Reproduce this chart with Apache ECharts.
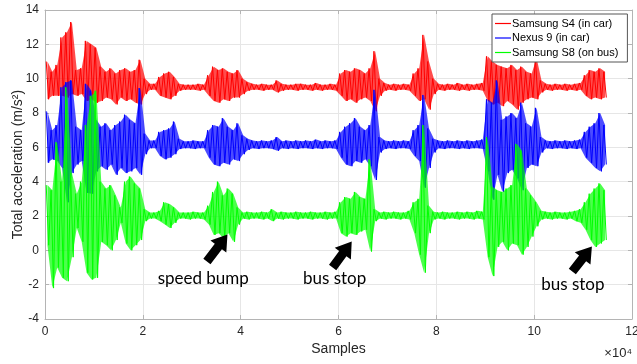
<!DOCTYPE html>
<html>
<head>
<meta charset="utf-8">
<script src="https://cdn.jsdelivr.net/npm/echarts@6/dist/echarts.min.js"></script>
<style>
  html, body { margin: 0; padding: 0; background: #fff; }
  #chart { width: 637px; height: 364px; }
</style>
</head>
<body>
<div id="chart"></div>
<script>
// envelope of each trace, read per 1000-sample bin (upper / lower value of the bin)
const binSize = 1000;

const redHi = [
  11.0, 10.4, 10.8, 12.4, 12.7, 13.3, 10.5, 10.6, 12.2, 12.0,
  11.8, 10.7, 10.4, 10.6, 10.3, 10.5, 10.6, 10.4, 10.5, 11.1,
  10.0, 9.7, 9.7, 10.1, 10.3, 10.4, 10.1, 9.7, 9.65, 9.65,
  9.65, 9.7, 9.65, 10.2, 10.7, 10.5, 10.6, 10.4, 10.3, 10.5,
  10.0, 9.8, 9.7, 9.65, 9.7, 9.65, 9.65, 9.9, 9.7, 9.65,
  9.65, 9.7, 9.7, 9.65, 9.65, 9.75, 9.65, 9.65, 9.7, 9.65,
  10.3, 10.5, 10.4, 10.6, 10.5, 10.3, 10.6, 11.6, 10.0, 9.75,
  9.65, 9.7, 9.65, 9.7, 9.65, 10.3, 10.6, 12.55, 11.0, 10.0,
  9.7, 9.65, 9.7, 9.65, 9.75, 9.65, 9.7, 9.65, 9.7, 9.75,
  11.3, 11.0, 10.8, 10.7, 10.6, 10.8, 10.5, 10.7, 10.4, 10.3,
  11.2, 9.9, 9.7, 9.65, 9.7, 9.65, 9.7, 9.65, 9.7, 9.75,
  10.2, 10.5, 10.4, 10.6, 10.4
];
const redLo = [
  8.8, 9.0, 9.0, 9.0, 8.9, 9.1, 9.0, 9.1, 8.7, 8.8,
  8.6, 8.7, 8.9, 8.8, 8.5, 8.9, 8.7, 8.8, 8.6, 8.5,
  9.1, 9.35, 9.35, 9.0, 8.9, 8.8, 9.0, 9.3, 9.35, 9.35,
  9.35, 9.3, 9.35, 9.0, 8.7, 8.6, 8.8, 8.7, 8.9, 8.9,
  9.1, 9.3, 9.35, 9.35, 9.3, 9.35, 9.35, 9.2, 9.3, 9.35,
  9.35, 9.3, 9.35, 9.35, 9.3, 9.35, 9.3, 9.35, 9.35, 9.3,
  9.0, 8.7, 8.8, 8.6, 8.8, 8.9, 8.7, 8.1, 9.0, 9.3,
  9.35, 9.3, 9.35, 9.35, 9.3, 9.0, 8.7, 8.8, 8.2, 9.1,
  9.35, 9.3, 9.35, 9.35, 9.3, 9.35, 9.3, 9.35, 9.35, 9.3,
  8.7, 8.5, 8.6, 8.4, 8.7, 8.5, 8.2, 8.6, 8.8, 8.9,
  8.8, 9.2, 9.35, 9.3, 9.35, 9.35, 9.3, 9.35, 9.3, 9.35,
  9.0, 8.8, 8.9, 8.8, 8.9
];

const blueHi = [
  8.1, 7.0, 7.3, 9.5, 9.8, 9.9, 7.2, 7.0, 9.7, 9.3,
  7.6, 7.2, 7.4, 7.0, 7.3, 7.5, 7.9, 7.6, 7.4, 9.45,
  6.8, 6.4, 6.4, 6.9, 7.0, 7.1, 7.5, 6.5, 6.35, 6.35,
  6.4, 6.35, 6.35, 7.0, 7.3, 7.2, 7.7, 7.2, 7.0, 7.4,
  6.7, 6.5, 6.4, 6.35, 6.4, 6.35, 6.4, 6.6, 6.35, 6.4,
  6.35, 6.4, 6.35, 6.4, 6.35, 6.45, 6.35, 6.4, 6.35, 6.4,
  6.9, 7.2, 7.4, 7.7, 7.2, 7.0, 7.3, 9.35, 6.6, 6.4,
  6.35, 6.4, 6.35, 6.4, 6.35, 7.0, 7.3, 9.05, 7.1, 6.5,
  6.4, 6.35, 6.4, 6.35, 6.4, 6.35, 6.4, 6.35, 6.4, 6.45,
  8.8, 8.6, 9.9, 7.6, 7.8, 8.0, 7.7, 8.6, 7.4, 7.2,
  8.3, 6.6, 6.4, 6.35, 6.4, 6.35, 6.4, 6.35, 6.4, 6.45,
  6.9, 7.2, 7.4, 8.0, 7.3
];
const blueLo = [
  5.1, 5.3, 5.2, 4.8, 2.8, 4.5, 5.0, 5.2, 3.35, 3.3,
  4.6, 4.9, 4.7, 5.0, 4.4, 4.8, 4.5, 4.6, 4.8, 4.4,
  5.6, 5.95, 5.95, 5.5, 5.3, 5.4, 5.6, 5.9, 5.95, 5.95,
  5.9, 5.95, 5.95, 5.4, 5.0, 4.9, 5.1, 5.0, 5.3, 5.2,
  5.6, 5.85, 5.95, 5.9, 5.95, 5.95, 5.9, 5.8, 5.95, 5.9,
  5.95, 5.9, 5.95, 5.95, 5.9, 5.95, 5.9, 5.95, 5.95, 5.9,
  5.4, 5.0, 4.9, 5.2, 5.1, 5.3, 4.9, 4.1, 5.7, 5.9,
  5.95, 5.9, 5.95, 5.95, 5.9, 5.5, 5.2, 3.65, 4.8, 5.7,
  5.95, 5.9, 5.95, 5.95, 5.9, 5.95, 5.9, 5.95, 5.95, 5.9,
  4.6, 2.95, 4.4, 3.4, 4.5, 4.7, 4.2, 3.5, 4.8, 5.0,
  4.9, 5.7, 5.95, 5.9, 5.95, 5.95, 5.9, 5.95, 5.9, 5.95,
  5.4, 5.1, 4.8, 4.6, 5.0
];

const greenHi = [
  3.8, 3.5, 6.3, 4.0, 9.5, 4.5, 3.3, 4.0, 7.3, 9.0,
  9.3, 4.0, 3.6, 3.8, 3.2, 2.5, 4.0, 4.3, 3.9, 3.6,
  2.4, 2.2, 2.2, 2.3, 2.8, 2.7, 2.5, 2.2, 2.2, 2.2,
  2.25, 2.2, 2.2, 2.6, 3.4, 4.0, 3.2, 3.6, 3.3, 2.5,
  2.2, 2.25, 2.2, 2.2, 2.25, 2.2, 2.4, 2.2, 2.25, 2.2,
  2.2, 2.25, 2.2, 2.2, 2.25, 2.2, 2.2, 2.25, 2.2, 2.25,
  2.8, 3.1, 3.0, 3.4, 3.1, 3.0, 5.3, 2.4, 2.2, 2.25,
  2.2, 2.25, 2.2, 2.2, 2.3, 2.8, 3.0, 7.3, 2.6, 2.25,
  2.2, 2.25, 2.2, 2.2, 2.25, 2.2, 2.25, 2.2, 2.3, 2.25,
  6.6, 3.7, 3.5, 3.4, 3.6, 3.8, 6.2, 5.8, 3.6, 3.2,
  2.8, 2.3, 2.25, 2.2, 2.25, 2.2, 2.2, 2.25, 2.3, 2.4,
  2.8, 3.3, 3.6, 3.9, 3.5
];
const greenLo = [
  0.3, -2.2, -1.0, -1.6, -1.8, -0.4, 1.3, 0.5, -1.3, -1.7,
  -1.6, 0.5, 0.3, 0.0, 0.6, 1.6, 0.4, 0.0, 0.3, 0.6,
  1.7, 1.85, 1.85, 1.7, 1.5, 1.3, 1.6, 1.85, 1.85, 1.8,
  1.85, 1.85, 1.8, 1.5, 0.9, 1.0, 0.7, 1.0, 0.5, 1.5,
  1.85, 1.8, 1.85, 1.85, 1.8, 1.85, 1.7, 1.85, 1.8, 1.85,
  1.85, 1.8, 1.85, 1.85, 1.8, 1.85, 1.85, 1.8, 1.85, 1.85,
  1.0, 0.8, 1.0, 0.9, 1.1, 1.2, -0.07, 1.7, 1.85, 1.8,
  1.85, 1.85, 1.8, 1.85, 1.8, 1.0, -0.25, -1.3, 1.0, 1.8,
  1.85, 1.8, 1.85, 1.85, 1.8, 1.85, 1.85, 1.8, 1.85, 1.8,
  -0.4, -1.5, 0.2, 0.5, 0.0, 0.4, 0.3, -0.25, 0.2, 0.8,
  1.4, 1.8, 1.85, 1.8, 1.85, 1.85, 1.8, 1.85, 1.7, 1.6,
  1.2, 0.6, 0.2, 0.4, 0.6
];

const seriesNames = ["Samsung S4 (in car)", "Nexus 9 (in car)", "Samsung S8 (on bus)"];
const seriesColors = ["#ff0000", "#0000ff", "#00ff00"];

// annotations, in data coordinates
const noteLabels = ["speed bump", "bus stop", "bus stop"];
const noteTextAt = [[32350, -1.64], [59200, -1.64], [107900, -1.99]];
const arrowTail = [[33100, -0.65], [58800, -1.0], [107800, -1.23]];
const arrowHead = [[37300, 0.92], [62700, 0.51], [111800, 0.22]];

// thin zigzag through each bin's high then low value
const zigzag = (hi, lo) => {
  const pts = [];
  for (let i = 0; i < hi.length; i++) {
    pts.push([i * binSize + 250, hi[i]]);
    pts.push([i * binSize + 750, lo[i]]);
  }
  return pts;
};

const axisGray = "#b4b4b4";
const textGray = "#262626";

const chart = echarts.init(document.getElementById("chart"));

const boxAxis = {
  axisLine: { show: true, onZero: false, lineStyle: { color: axisGray, width: 1 } },
  axisTick: { show: true, inside: true, length: 4, lineStyle: { color: axisGray } },
};

// filled envelope: upper edge through the highs, back along the lows
const renderBand = (hi, lo, color) => (params, api) => {
  const top = hi.map((h, i) => api.coord([i * binSize + 500, h]));
  const bottom = lo.map((l, i) => api.coord([i * binSize + 500, l])).reverse();
  return {
    type: "polygon",
    shape: { points: top.concat(bottom) },
    style: { fill: color, opacity: 0.7 },
  };
};

const traces = [[redHi, redLo], [blueHi, blueLo], [greenHi, greenLo]];
const series = [];
traces.forEach(([hi, lo], k) => {
  series.push({
    name: seriesNames[k],
    type: "custom",
    data: [[0, lo[0], hi[0]]],
    renderItem: renderBand(hi, lo, seriesColors[k]),
    color: seriesColors[k],
    z: 2 + k * 2,
  });
  series.push({
    name: seriesNames[k],
    type: "line",
    data: zigzag(hi, lo),
    symbol: "none",
    sampling: null,
    color: seriesColors[k],
    lineStyle: { width: 1, color: seriesColors[k] },
    z: 2 + k * 2,
  });
});

const option = {
  animation: false,
  backgroundColor: "#fff",
  grid: { left: 45, right: 5, top: 10, bottom: 45, containLabel: false, outerBoundsMode: "none" },
  legend: {
    orient: "vertical",
    left: 492,
    top: 14,
    padding: [3, 9, 3, 3],
    itemGap: 1.5,
    itemWidth: 16,
    itemHeight: 1.2,
    icon: "rect",
    backgroundColor: "#fff",
    borderColor: "#555",
    borderWidth: 1,
    data: seriesNames,
    textStyle: { color: "#000", fontSize: 11, lineHeight: 13, fontFamily: "Liberation Sans", padding: [0, 0, 0, -4] },
  },
  xAxis: [
    {
      type: "value",
      min: 0,
      max: 120000,
      interval: 20000,
      name: "Samples",
      nameLocation: "middle",
      nameGap: 23,
      nameMoveOverlap: false,
      nameTextStyle: { color: textGray, fontSize: 14, fontFamily: "Liberation Sans" },
      ...boxAxis,
      axisLabel: {
        color: textGray,
        fontSize: 12,
        fontFamily: "Liberation Sans",
        margin: 7,
        formatter: (v) => String(v / 10000),
      },
      splitLine: { show: true, lineStyle: { color: "#e6e6e6", width: 1 } },
    },
    {
      type: "value",
      position: "top",
      min: 0,
      max: 120000,
      interval: 20000,
      ...boxAxis,
      axisLabel: { show: false },
      splitLine: { show: false },
    },
  ],
  yAxis: [
    {
      type: "value",
      min: -4,
      max: 14,
      interval: 2,
      name: "Total acceleration (m/s²)",
      nameLocation: "middle",
      nameGap: 20,
      nameMoveOverlap: false,
      nameTextStyle: { color: textGray, fontSize: 14, fontFamily: "Liberation Sans" },
      ...boxAxis,
      axisLabel: { color: textGray, fontSize: 12, fontFamily: "Liberation Sans", margin: 6 },
      splitLine: { show: true, lineStyle: { color: "#e6e6e6", width: 1 } },
    },
    {
      type: "value",
      position: "right",
      min: -4,
      max: 14,
      interval: 2,
      ...boxAxis,
      axisLabel: { show: false },
      splitLine: { show: false },
    },
  ],
  series: series,
};

chart.setOption(option);

// arrows and notes, placed through the grid's coordinate system
const toPx = (p) => chart.convertToPixel({ gridIndex: 0 }, p);

const arrowShape = (tail, head) => {
  const [tx, ty] = toPx(tail);
  const [hx, hy] = toPx(head);
  const len = Math.hypot(hx - tx, hy - ty);
  const dx = (hx - tx) / len, dy = (hy - ty) / len;
  const nx = -dy, ny = dx;
  const shaft = 4.5, headW = 10, headL = 15;
  const bx = hx - dx * headL, by = hy - dy * headL;
  return [
    [tx + nx * shaft, ty + ny * shaft],
    [bx + nx * shaft, by + ny * shaft],
    [bx + nx * headW, by + ny * headW],
    [hx, hy],
    [bx - nx * headW, by - ny * headW],
    [bx - nx * shaft, by - ny * shaft],
    [tx - nx * shaft, ty - ny * shaft],
  ];
};

const graphics = [];
noteLabels.forEach((label, i) => {
  graphics.push({
    type: "polygon",
    shape: { points: arrowShape(arrowTail[i], arrowHead[i]) },
    style: { fill: "#000" },
    z: 100,
  });
  const [px, py] = toPx(noteTextAt[i]);
  graphics.push({
    type: "text",
    x: px,
    y: py,
    style: {
      text: label,
      fill: "#000",
      font: "17px Lato",
      align: "center",
      verticalAlign: "middle",
    },
    z: 100,
  });
});
graphics.push({
  type: "text",
  right: 5,
  bottom: 4,
  style: { text: "×10⁴", fill: textGray, font: "13px 'Liberation Sans'" },
  z: 100,
});

chart.setOption({ graphic: graphics });
</script>
</body>
</html>
